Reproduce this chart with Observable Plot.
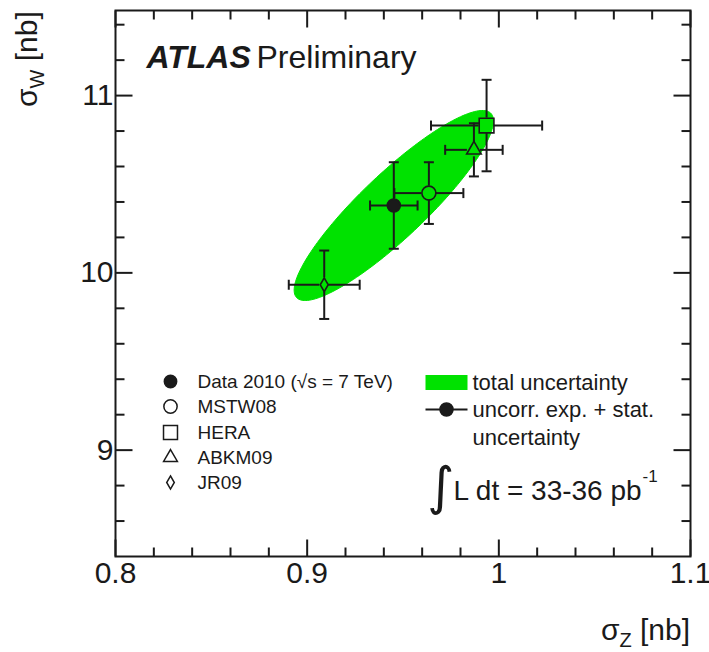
<!DOCTYPE html>
<html>
<head>
<meta charset="utf-8">
<script src="https://cdn.jsdelivr.net/npm/d3@7"></script>
<script src="https://cdn.jsdelivr.net/npm/@observablehq/plot@0.6"></script>
<style>
  html, body { margin: 0; padding: 0; background: #fff; }
</style>
</head>
<body>
<div id="chart"></div>
<script>
// ---- data ----
const models = ["Data 2010 (√s = 7 TeV)", "MSTW08", "HERA", "ABKM09", "JR09"];
const sigmaZ = [0.9452, 0.9635, 0.9936, 0.9870, 0.9089];
const sigmaW = [10.380, 10.450, 10.831, 10.694, 9.933];
const errZ = [0.0124, 0.0180, 0.0290, 0.0150, 0.0185];
const errW = [0.244, 0.174, 0.258, 0.150, 0.193];
// total uncertainty (1 sigma) ellipse of the measurement
const ellipseCenter = [0.9452, 10.380];
const ellipseSigma = [0.052, 0.536];
const ellipseRho = 0.89;
const xTicks = [0.8, 0.9, 1.0, 1.1];
const xMinor = [0.82, 0.84, 0.86, 0.88, 0.92, 0.94, 0.96, 0.98, 1.02, 1.04, 1.06, 1.08];
const yTicks = [9, 10, 11];
const yMinor = [8.6, 8.8, 9.2, 9.4, 9.6, 9.8, 10.2, 10.4, 10.6, 10.8, 11.2, 11.4];
const legendRight = ["total uncertainty", "uncorr. exp. + stat.", "uncertainty"];
const lumiText = "L dt = 33-36 pb";

// ---- styles ----
const ink = "#1a1a1a";
const green = "#00e200";
const font = "'Liberation Sans', Arial, Helvetica, sans-serif";
const symbols = ["circle", "circle", "square", "triangle", "diamond"];
const symFill = [ink, "none", "none", "none", "none"];
const symR = [6.5, 7, 8.3, 5.4, 4.2];
const gapX = [6, 7, 7.5, 6.5, 4.5];
const gapY = [6, 7, 7.5, 7, 7];

const ML = 115, MT = 10;
const at = (px, py) => ({frameAnchor: "top-left", dx: px - ML, dy: py - MT});

const tickShape = {draw(ctx, l) { ctx.moveTo(0, 0); ctx.lineTo(0, -l); }};
const capShape = {draw(ctx, l) { ctx.moveTo(0, -l / 2); ctx.lineTo(0, l / 2); }};
const boxShape = {draw(ctx, l) { ctx.rect(-l / 2, -7.5, l, 15); }};

const pts = models.map((m, i) => ({m, i, x: sigmaZ[i], y: sigmaW[i], ex: errZ[i], ey: errW[i]}));

const [cx, cy] = ellipseCenter, [sx, sy] = ellipseSigma, rho = ellipseRho;
const ellipse = d3.range(0, 360, 2).map(a => {
  const t = a * Math.PI / 180;
  return {x: cx + sx * Math.cos(t), y: cy + sy * (rho * Math.cos(t) + Math.sqrt(1 - rho * rho) * Math.sin(t))};
});

function sideTicks(vals, len) {
  const common = {length: len, anchor: "start", shape: tickShape, stroke: ink, strokeWidth: 2, strokeLinecap: "butt"};
  return vals === xTicks || vals === xMinor ? [
    Plot.vector(vals, {...common, x: d => d, frameAnchor: "bottom", rotate: 0}),
    Plot.vector(vals, {...common, x: d => d, frameAnchor: "top", rotate: 180})
  ] : [
    Plot.vector(vals, {...common, y: d => d, frameAnchor: "left", rotate: 90}),
    Plot.vector(vals, {...common, y: d => d, frameAnchor: "right", rotate: -90})
  ];
}

const barStyle = {stroke: ink, strokeWidth: 2};
const capStyle = {length: 10, anchor: "start", shape: capShape, stroke: ink, strokeWidth: 2, strokeLinecap: "butt"};
const errorBars = pts.flatMap(p => [
  Plot.ruleX([p], {...barStyle, x: "x", y1: d => d.y + d.ey, y2: "y", insetBottom: gapY[p.i]}),
  Plot.ruleX([p], {...barStyle, x: "x", y1: "y", y2: d => d.y - d.ey, insetTop: gapY[p.i]}),
  Plot.ruleY([p], {...barStyle, y: "y", x1: d => d.x - d.ex, x2: "x", insetRight: gapX[p.i]}),
  Plot.ruleY([p], {...barStyle, y: "y", x1: "x", x2: d => d.x + d.ex, insetLeft: gapX[p.i]}),
  Plot.vector([p], {...capStyle, x: "x", y: d => d.y + d.ey, rotate: 90}),
  Plot.vector([p], {...capStyle, x: "x", y: d => d.y - d.ey, rotate: 90}),
  Plot.vector([p], {...capStyle, x: d => d.x - d.ex, y: "y", rotate: 0}),
  Plot.vector([p], {...capStyle, x: d => d.x + d.ex, y: "y", rotate: 0})
]);

const markers = pts.map(p =>
  Plot.dot([p], {x: "x", y: "y", symbol: symbols[p.i], r: symR[p.i], fill: symFill[p.i], stroke: ink, strokeWidth: 1.6})
);

const legendRows = [381, 406, 432, 457, 482];
const legendLeft = models.flatMap((m, i) => [
  Plot.dot([m], {...at(170, legendRows[i]), symbol: symbols[i], r: symR[i] * 0.95, fill: symFill[i], stroke: ink, strokeWidth: 1.5}),
  Plot.text([m], {...at(197, legendRows[i]), text: d => d, textAnchor: "start", lineAnchor: "middle", fontSize: 19, fill: ink})
]);

const legendRightMarks = [
  Plot.vector([0], {...at(446, 382), length: 42, anchor: "start", shape: boxShape, fill: green, stroke: "none", rotate: 0}),
  Plot.text([legendRight[0]], {...at(472, 382), text: d => d, textAnchor: "start", lineAnchor: "middle", fontSize: 22, fill: ink}),
  Plot.vector([0], {...at(446, 409), length: 42, anchor: "start", shape: capShape, rotate: 90, stroke: ink, strokeWidth: 2, strokeLinecap: "butt"}),
  Plot.dot([0], {...at(446, 409), r: 6.5, fill: ink, stroke: ink}),
  Plot.text([legendRight[1]], {...at(472, 409), text: d => d, textAnchor: "start", lineAnchor: "middle", fontSize: 22, fill: ink}),
  Plot.text([legendRight[2]], {...at(472, 437), text: d => d, textAnchor: "start", lineAnchor: "middle", fontSize: 22, fill: ink}),
  Plot.text(["∫"], {...at(440, 487), text: d => d, textAnchor: "middle", lineAnchor: "middle", fontSize: 52, fontFamily: "'DejaVu Sans', sans-serif", fill: ink}),
  Plot.text([lumiText], {...at(453, 499), text: d => d, textAnchor: "start", lineAnchor: "bottom", fontSize: 28, fill: ink}),
  Plot.text(["-1"], {...at(642, 481), text: d => d, textAnchor: "start", lineAnchor: "bottom", fontSize: 17, fill: ink})
];

const title = [
  Plot.text(["ATLAS"], {...at(146, 67), text: d => d, textAnchor: "start", lineAnchor: "bottom", fontSize: 32, fontWeight: "bold", fontStyle: "italic", fill: ink}),
  Plot.text(["Preliminary"], {...at(256, 67), text: d => d, textAnchor: "start", lineAnchor: "bottom", fontSize: 32, fill: ink})
];

const chart = Plot.plot({
  width: 709,
  height: 652,
  marginLeft: ML,
  marginRight: 19,
  marginTop: MT,
  marginBottom: 96,
  style: {fontFamily: font, background: "#fff", color: ink, overflow: "visible"},
  x: {domain: [0.8, 1.1], label: null},
  y: {domain: [8.4, 11.48], label: null},
  marks: [
    Plot.line(ellipse, {x: "x", y: "y", curve: "linear-closed", fill: green, stroke: green, strokeWidth: 1}),
    ...errorBars,
    ...markers,
    ...sideTicks(xTicks, 17),
    ...sideTicks(xMinor, 9),
    ...sideTicks(yTicks, 17),
    ...sideTicks(yMinor, 9),
    Plot.axisX({ticks: xTicks, tickSize: 0, tickPadding: 5, fontSize: 30, tickFormat: d => `${d}`, label: null, fill: ink}),
    Plot.axisY({ticks: yTicks, tickSize: 0, tickPadding: 2, fontSize: 30, tickFormat: d => `${d}`, label: null, fill: ink}),
    Plot.frame({stroke: ink, strokeWidth: 2}),
    ...title,
    ...legendLeft,
    ...legendRightMarks
  ]
});

document.getElementById("chart").appendChild(chart);

// axis titles with subscripts
const svg = d3.select(chart);
const yl = svg.append("text")
  .attr("transform", "translate(37,107) rotate(-90)")
  .attr("font-size", 30).attr("fill", ink).attr("text-anchor", "start");
yl.append("tspan").text("σ");
yl.append("tspan").attr("font-size", 20).attr("dy", 7).text("W");
yl.append("tspan").attr("dy", -7).text(" [nb]");

const xl = svg.append("text")
  .attr("x", 690).attr("y", 640)
  .attr("font-size", 30).attr("fill", ink).attr("text-anchor", "end");
xl.append("tspan").text("σ");
xl.append("tspan").attr("font-size", 20).attr("dy", 7).text("Z");
xl.append("tspan").attr("dy", -7).text(" [nb]");
</script>
</body>
</html>
